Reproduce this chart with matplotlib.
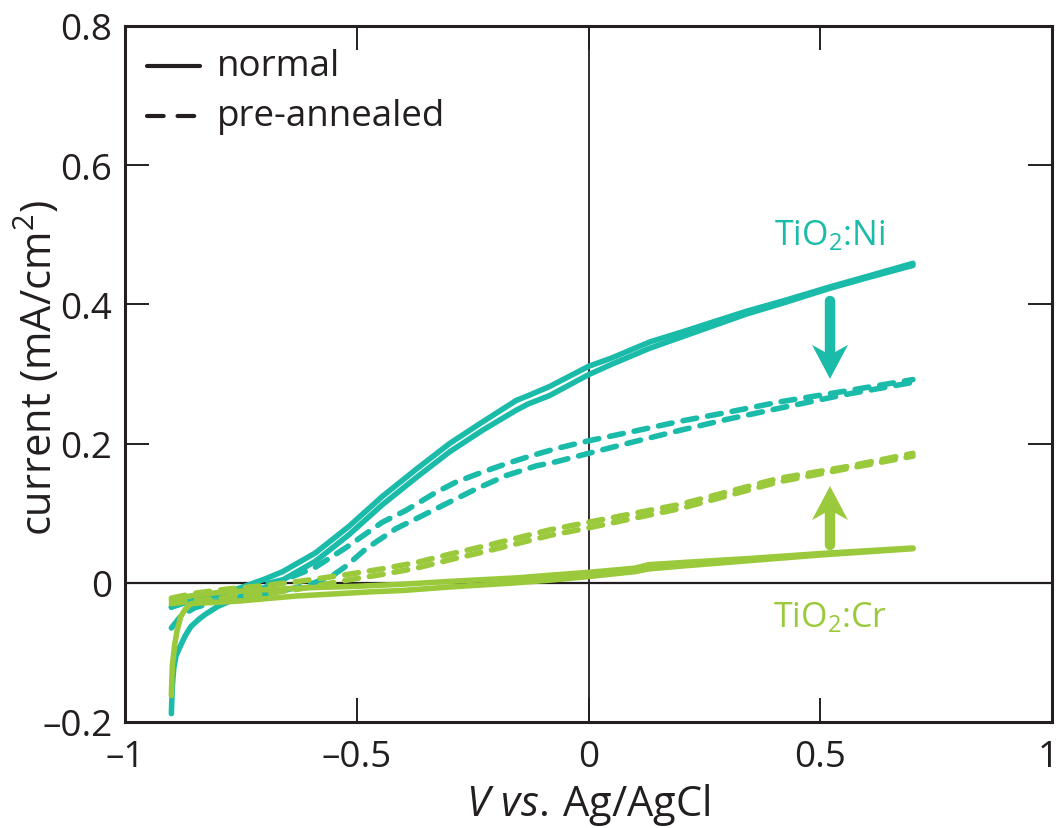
import matplotlib
matplotlib.use("Agg")
import matplotlib.pyplot as plt
from matplotlib.patches import Polygon
from matplotlib.lines import Line2D
from matplotlib.transforms import ScaledTranslation

# ---------------- data: current (mA/cm^2) vs. potential (V vs. Ag/AgCl) ----------------
# TiO2:Ni, normal -- forward (lower) and reverse (upper) sweeps
ni_norm_fwd_v = [-0.900, -0.898, -0.895, -0.890, -0.880, -0.870, -0.858, -0.840, -0.826, -0.800,
                 -0.776, -0.750, -0.700, -0.660, -0.589, -0.517, -0.445, -0.372, -0.300, -0.229,
                 -0.156, -0.130, -0.084, 0.000, 0.050, 0.132, 0.200, 0.340, 0.420, 0.520, 0.600,
                 0.700]
ni_norm_fwd_i = [-0.188, -0.150, -0.124, -0.105, -0.090, -0.076, -0.063, -0.052, -0.045, -0.034,
                 -0.027, -0.020, -0.007, 0.004, 0.031, 0.069, 0.112, 0.151, 0.188, 0.219,
                 0.248, 0.257, 0.269, 0.299, 0.314, 0.337, 0.353, 0.386, 0.402, 0.423, 0.438,
                 0.456]
ni_norm_rev_v = [-0.900, -0.880, -0.850, -0.800, -0.750, -0.700, -0.660, -0.589, -0.517, -0.445,
                 -0.372, -0.300, -0.229, -0.156, -0.130, -0.084, 0.000, 0.050, 0.132, 0.200,
                 0.340, 0.420, 0.520, 0.600, 0.700]
ni_norm_rev_i = [-0.035, -0.030, -0.025, -0.018, -0.007, 0.005, 0.016, 0.043, 0.081, 0.124,
                 0.163, 0.200, 0.231, 0.262, 0.269, 0.282, 0.311, 0.323, 0.346, 0.360,
                 0.390, 0.405, 0.425, 0.440, 0.459]

# TiO2:Ni, pre-annealed
ni_ann_fwd_v = [-0.900, -0.880, -0.850, -0.800, -0.750, -0.700, -0.650, -0.600, -0.553, -0.523,
                -0.480, -0.415, -0.372, -0.300, -0.242, -0.178, -0.113, -0.069, 0.000, 0.100,
                0.197, 0.300, 0.413, 0.550, 0.700]
ni_ann_fwd_i = [-0.065, -0.048, -0.036, -0.026, -0.020, -0.016, -0.010, -0.002, 0.010, 0.024,
                0.049, 0.078, 0.092, 0.116, 0.135, 0.154, 0.168, 0.174, 0.186, 0.203,
                0.219, 0.235, 0.251, 0.270, 0.288]
ni_ann_rev_v = [-0.900, -0.850, -0.800, -0.750, -0.700, -0.650, -0.590, -0.520, -0.445, -0.394,
                -0.329, -0.285, -0.229, -0.178, -0.121, -0.069, 0.000, 0.100, 0.197, 0.300,
                0.413, 0.550, 0.700]
ni_ann_rev_i = [-0.035, -0.024, -0.015, -0.008, -0.002, 0.006, 0.022, 0.052, 0.087, 0.104,
                0.130, 0.145, 0.159, 0.171, 0.183, 0.193, 0.204, 0.218, 0.232, 0.245,
                0.260, 0.275, 0.292]

# TiO2:Cr, normal
cr_norm_fwd_v = [-0.900, -0.898, -0.893, -0.888, -0.880, -0.870, -0.858, -0.840, -0.800, -0.750,
                 -0.700, -0.630, -0.550, -0.470, -0.400, -0.300, -0.156, -0.080, 0.000, 0.100,
                 0.130, 0.200, 0.350, 0.500, 0.700]
cr_norm_fwd_i = [-0.162, -0.120, -0.090, -0.070, -0.049, -0.038, -0.030, -0.029, -0.028, -0.026,
                 -0.023, -0.019, -0.016, -0.013, -0.011, -0.006, 0.000, 0.004, 0.009, 0.016,
                 0.020, 0.024, 0.032, 0.040, 0.049]
cr_norm_rev_v = [-0.900, -0.860, -0.800, -0.700, -0.600, -0.500, -0.400, -0.300, -0.156, -0.080,
                 0.000, 0.100, 0.130, 0.200, 0.350, 0.500, 0.700]
cr_norm_rev_i = [-0.025, -0.019, -0.014, -0.010, -0.007, -0.005, -0.002, 0.002, 0.007, 0.011,
                 0.015, 0.021, 0.026, 0.029, 0.035, 0.042, 0.050]

# TiO2:Cr, pre-annealed
cr_ann_v = [-0.900, -0.850, -0.780, -0.700, -0.625, -0.520, -0.445, -0.372, -0.300, -0.229,
            -0.156, -0.084, 0.000, 0.200, 0.410, 0.550, 0.700]
cr_ann_rev_i = [-0.022, -0.015, -0.009, -0.004, 0.002, 0.012, 0.020, 0.029, 0.041, 0.052,
                0.064, 0.076, 0.087, 0.113, 0.150, 0.166, 0.186]
cr_ann_fwd_i = [-0.030, -0.026, -0.021, -0.016, -0.009, 0.004, 0.012, 0.021, 0.033, 0.044,
                0.056, 0.068, 0.079, 0.107, 0.145, 0.163, 0.182]

x_ticks = [-1, -0.5, 0, 0.5, 1]
x_tick_labels = ["\u20131", "\u20130.5", "0", "0.5", "1"]
y_ticks = [-0.2, 0, 0.2, 0.4, 0.6, 0.8]
y_tick_labels = ["\u20130.2", "0", "0.2", "0.4", "0.6", "0.8"]

TEAL = "#1ABBA9"
GREEN = "#9AC93B"
INK = "#231F20"

# ---------------- style ----------------
plt.rcParams["font.family"] = ["Open Sans", "DejaVu Sans"]
plt.rcParams["mathtext.fontset"] = "custom"
plt.rcParams["mathtext.rm"] = "Open Sans"
plt.rcParams["mathtext.it"] = "Open Sans:italic"
plt.rcParams["lines.scale_dashes"] = False
FS_TICK = 26.5
FS_LABEL = 30
FS_NOTE = 24.5

fig = plt.figure(figsize=(10.59, 8.29), dpi=100)
ax = fig.add_axes([125 / 1059, 106 / 829, 927 / 1059, 696 / 829])
ax.set_xlim(-1, 1)
ax.set_ylim(-0.2, 0.8)

for s in ax.spines.values():
    s.set_linewidth(2.2)
    s.set_color(INK)

ax.axhline(0, color=INK, lw=1.6, zorder=1)
ax.axvline(0, color=INK, lw=1.3, zorder=1)

ax.set_xticks(x_ticks)
ax.set_xticklabels(x_tick_labels)
ax.set_yticks(y_ticks)
ax.set_yticklabels(y_tick_labels)
ax.tick_params(direction="in", length=17, width=1.4, color=INK, labelsize=FS_TICK,
               labelcolor=INK, top=True, right=True)
ax.tick_params(axis="y", pad=9)
ax.tick_params(axis="x", pad=12)
# keep the last x label inside the canvas
last = ax.get_xticklabels()[-1]
last.set_transform(last.get_transform() + ScaledTranslation(-4 / 100, 0, fig.dpi_scale_trans))

LW = 4.0
solid_kw = dict(lw=LW, solid_capstyle="round", solid_joinstyle="round", zorder=3)
dash_kw = dict(lw=LW, linestyle=(0, (10, 8)), dash_capstyle="round",
               dash_joinstyle="round", zorder=3)

# TiO2:Ni
ax.plot(ni_norm_fwd_v, ni_norm_fwd_i, color=TEAL, **solid_kw)
ax.plot(ni_norm_rev_v, ni_norm_rev_i, color=TEAL, **solid_kw)
ax.plot(ni_ann_fwd_v, ni_ann_fwd_i, color=TEAL, **dash_kw)
ax.plot(ni_ann_rev_v, ni_ann_rev_i, color=TEAL, **dash_kw)
# TiO2:Cr
ax.plot(cr_ann_v, cr_ann_fwd_i, color=GREEN, **dash_kw)
ax.plot(cr_ann_v, cr_ann_rev_i, color=GREEN, **dash_kw)
ax.plot(cr_norm_fwd_v, cr_norm_fwd_i, color=GREEN, **solid_kw)
ax.plot(cr_norm_rev_v, cr_norm_rev_i, color=GREEN, **solid_kw)

# axis labels
ax.set_ylabel("current (mA/cm$^2$)", fontsize=FS_LABEL, color=INK)
ax.yaxis.set_label_coords(-0.068, 0.51)
ax.set_xlabel(r"$\mathit{V\ vs.\,}$Ag/AgCl", fontsize=FS_LABEL, color=INK)
ax.xaxis.set_label_coords(0.5, -0.085)

# legend (line samples + text)
ax.add_line(Line2D([0.024, 0.081], [0.9425, 0.9425], transform=ax.transAxes,
                   color=INK, lw=3, solid_capstyle="round"))
ax.add_line(Line2D([0.024, 0.081], [0.8707, 0.8707], transform=ax.transAxes,
                   color=INK, lw=3, linestyle=(0, (12, 10)), dash_capstyle="round"))
ax.text(0.099, 0.9425, "normal", transform=ax.transAxes, fontsize=FS_TICK, color=INK,
        va="center", ha="left")
ax.text(0.099, 0.8707, "pre-annealed", transform=ax.transAxes, fontsize=FS_TICK, color=INK,
        va="center", ha="left")

# sample labels
ax.text(0.521, 0.487, "TiO$_2$:Ni", fontsize=FS_NOTE, color=TEAL, ha="center", va="baseline")
ax.text(0.521, -0.063, "TiO$_2$:Cr", fontsize=FS_NOTE, color=GREEN, ha="center", va="baseline")


def draw_arrow(x, y_start, y_tip, color):
    """Vertical arrow with a swept-back head, head size fixed in pixels."""
    fig.canvas.draw()
    xs, ys = ax.transData.transform((x, y_start))
    xt, yt = ax.transData.transform((x, y_tip))
    d = 1 if yt < ys else -1  # head points down when d == 1
    half_w, head_len, notch = 18, 34, 24
    head = Polygon([(xt, yt), (xt + half_w, yt + d * head_len), (xt, yt + d * notch),
                    (xt - half_w, yt + d * head_len)], closed=True, transform=None,
                   facecolor=color, edgecolor="none", zorder=4)
    fig.add_artist(head)
    shaft = Line2D([xs, xt], [ys, yt + d * (notch + 2)], transform=None, color=color,
                   lw=7.5, solid_capstyle="round", zorder=4)
    fig.add_artist(shaft)


draw_arrow(0.521, 0.405, 0.293, TEAL)
draw_arrow(0.521, 0.055, 0.139, GREEN)

fig.savefig("out.png", dpi=100)
